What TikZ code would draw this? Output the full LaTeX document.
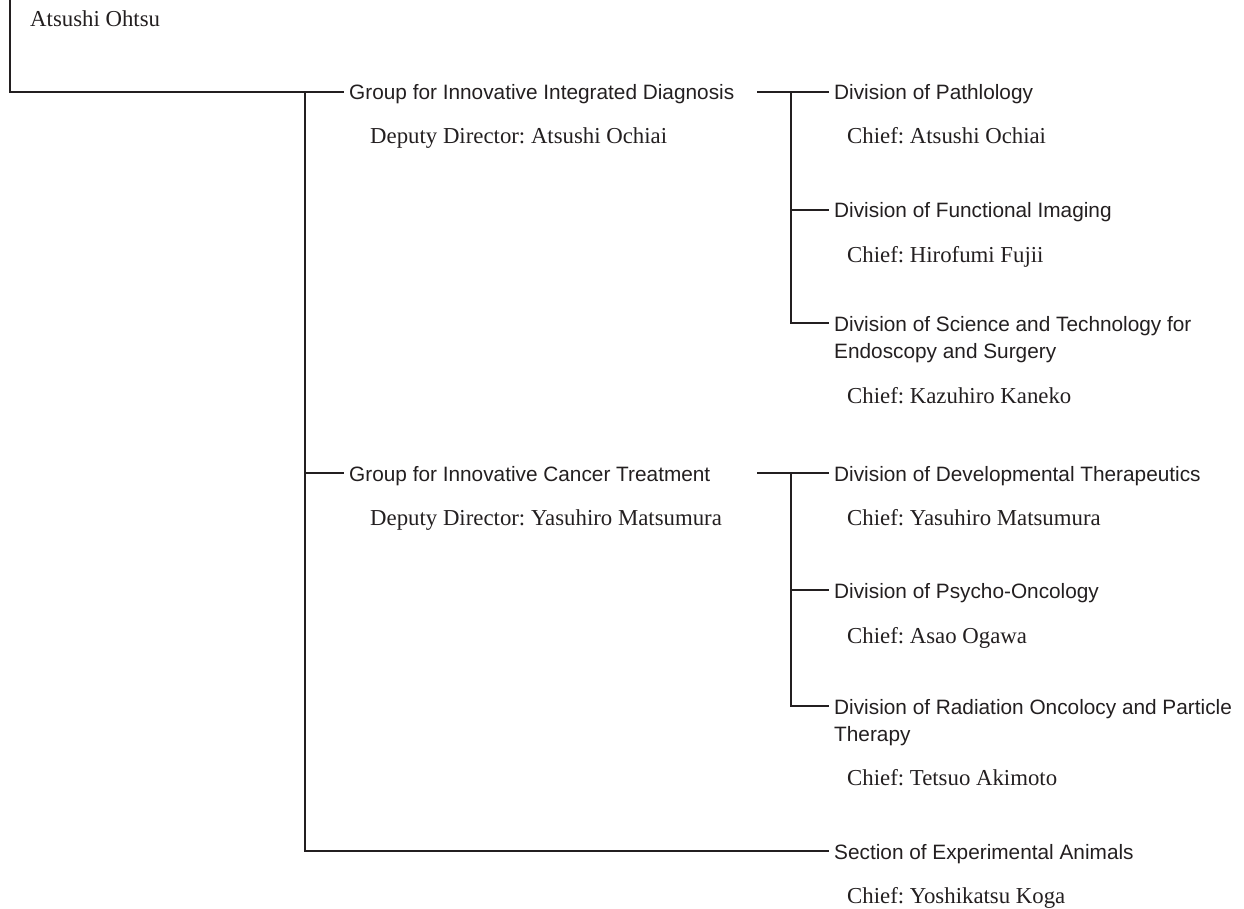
\documentclass[tikz,border=0pt]{standalone}
\usepackage{fontspec}
\setmainfont{Liberation Serif}
\newfontfamily\sansf{Liberation Sans}
\definecolor{ink}{HTML}{231F20}
\frenchspacing
\begin{document}
\begin{tikzpicture}[x=1pt,y=1pt,
  unit/.style={font=\sansf\fontsize{20.8}{27}\selectfont, inner sep=0pt, anchor=base west, align=left, text=ink},
  person/.style={font=\fontsize{22.8}{27}\selectfont, inner sep=0pt, anchor=base west, text=ink},
  link/.style={draw=ink, line width=1.4pt}]
\useasboundingbox (0,0) rectangle (1244,-909);
% nodes
\node[person] (dir) at (30,-27) {Atsushi Ohtsu};
\node[unit] (g1) at (349,-100) {Group for Innovative Integrated Diagnosis};
\node[person] (g1p) at (370,-144) {Deputy Director: Atsushi Ochiai};
\node[unit] (d1) at (834,-100) {Division of Pathlology};
\node[person] (d1p) at (847,-144) {Chief: Atsushi Ochiai};
\node[unit] (d2) at (834,-218) {Division of Functional Imaging};
\node[person] (d2p) at (847,-262) {Chief: Hirofumi Fujii};
\node[unit] (d3) at (834,-358) {Division of Science and Technology for\\Endoscopy and Surgery};
\node[person] (d3p) at (847,-403) {Chief: Kazuhiro Kaneko};
\node[unit] (g2) at (349,-481) {Group for Innovative Cancer Treatment};
\node[person] (g2p) at (370,-525) {Deputy Director: Yasuhiro Matsumura};
\node[unit] (d4) at (834,-481) {Division of Developmental Therapeutics};
\node[person] (d4p) at (847,-525) {Chief: Yasuhiro Matsumura};
\node[unit] (d5) at (834,-598) {Division of Psycho-Oncology};
\node[person] (d5p) at (847,-643) {Chief: Asao Ogawa};
\node[unit] (d6) at (834,-741) {Division of Radiation Oncolocy and Particle\\Therapy};
\node[person] (d6p) at (847,-785) {Chief: Tetsuo Akimoto};
\node[unit] (s1) at (834,-859) {Section of Experimental Animals};
\node[person] (s1p) at (847,-903) {Chief: Yoshikatsu Koga};
% connector tips
\coordinate (g1t) at ([shift={(-5pt,8pt)}]g1.base west);
\coordinate (g2t) at ([shift={(-5pt,8pt)}]g2.base west);
\coordinate (d1t) at ([shift={(-5pt,8pt)}]d1.base west);
\coordinate (d2t) at ([shift={(-5pt,8pt)}]d2.base west);
\coordinate (d4t) at ([shift={(-5pt,8pt)}]d4.base west);
\coordinate (d5t) at ([shift={(-5pt,8pt)}]d5.base west);
\coordinate (s1t) at ([shift={(-5pt,8pt)}]s1.base west);
\coordinate (top) at (10,0);
\coordinate (spine) at (305,-92);
\coordinate (b1) at (757,-92);
\coordinate (b2) at (757,-473);
\coordinate (v1) at (791,-92);
\coordinate (v2) at (791,-473);
\coordinate (d3t) at (829,-323);
\coordinate (d6t) at (829,-706);
% connectors
\draw[link] (top) |- (g1t);
\draw[link] (spine) |- (s1t);
\draw[link] (spine |- g2t) -- (g2t);
\draw[link] (b1 |- d1t) -- (d1t);
\draw[link] (v1 |- d1t) |- (d3t);
\draw[link] (v1 |- d2t) -- (d2t);
\draw[link] (b2 |- d4t) -- (d4t);
\draw[link] (v2 |- d4t) |- (d6t);
\draw[link] (v2 |- d5t) -- (d5t);
\end{tikzpicture}
\end{document}
